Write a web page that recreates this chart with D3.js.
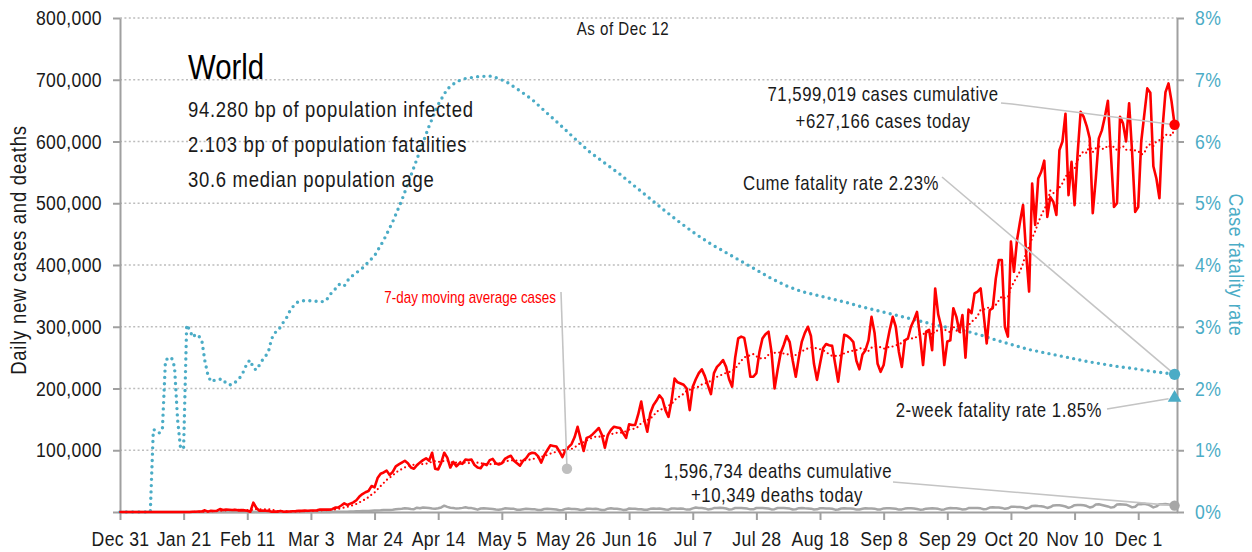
<!DOCTYPE html>
<html>
<head>
<meta charset="utf-8">
<script src="https://cdn.jsdelivr.net/npm/d3@7"></script>
<style>
  body { margin: 0; background: #fff; }
  svg { display: block; font-family: 'Liberation Sans', Arial, sans-serif; }
</style>
</head>
<body>
<svg id="chart" width="1252" height="552"></svg>
<script>
// daily new cases (thousands), one value per day starting Dec 31 (day 0)
const casesK = [
  0, 0, 0, 0, 0, 0, 0,
  0, 0, 0, 0, 0, 0, 0,
  0, 0, 0, 0, 0, 0, 0,
  0, 0, 0.1, 0.3, 0.5, 0.7, 0.8,
  2.7, 0.6, 2.1, 1.7, 2.1, 4.7, 3.1,
  4.0, 3.7, 3.2, 3.6, 2.7, 3.0, 2.6,
  2.0, 0.4, 15.1, 6.5, 2.1, 2.2, 2.0,
  1.9, 0.5, 0.6, 0.6, 1.8, 0.4, 0.6,
  0.9, 1.2, 1.4, 1.8, 1.8, 2.2, 1.9,
  2.4, 2.5, 2.7, 4.0, 3.9, 4.0, 3.8,
  4.5, 7.1, 7.3, 10.5, 14.0, 11.4, 13.6,
  15.6, 19, 25, 29, 32, 34, 42,
  40, 55, 62, 64, 67, 60, 65,
  74, 77, 80, 83, 79, 72, 70,
  76, 80, 84, 87, 83, 96, 70,
  69, 80, 96, 88, 72, 81, 74,
  79, 78, 85, 84, 85, 76, 72,
  71, 78, 76, 84, 86, 79, 77,
  79, 86, 89, 91, 83, 79, 75,
  83, 87, 94, 96, 95, 90, 80,
  92, 100, 108, 107, 106, 98, 89,
  100, 105, 110, 121, 138, 118, 99,
  120, 122, 126, 131, 136, 125, 104,
  125, 133, 138, 137, 136, 128, 120,
  142, 141, 141, 158, 179, 150, 130,
  160, 173, 180, 189, 183, 165, 154,
  180, 216, 210, 208, 206, 200, 165,
  203, 215, 225, 231, 220, 205, 191,
  225, 235, 240, 246, 235, 215, 203,
  250, 281, 284, 282, 255, 219, 219,
  225, 259, 281, 288, 292, 259, 200,
  230, 257, 270, 285, 275, 245, 219,
  250, 276, 290, 300, 285, 240, 214,
  240, 265, 272, 270, 269, 240, 211,
  250, 287, 285, 281, 275, 245, 231,
  255, 262, 278, 316, 290, 240, 227,
  238, 270, 295, 316, 300, 260, 235,
  278, 281, 300, 311, 324, 285, 238,
  292, 295, 262, 362, 320, 300, 238,
  276, 278, 330, 316, 292, 319, 250,
  328, 322, 354, 357, 362, 320, 273,
  327, 330, 378, 408, 408, 300, 284,
  438, 389, 440, 470, 497, 420, 357,
  532, 465, 540, 551, 569, 478, 510,
  502, 481, 586, 600, 645, 513, 567,
  497, 580, 648, 640, 625, 605, 484,
  540, 605, 618, 640, 666, 578, 494,
  500, 640, 629, 600, 662, 581, 486,
  494, 600, 643, 686, 679, 560, 540,
  508, 620, 680, 694, 665, 627.166
];

// daily new deaths (thousands), same days
const deathsK = [
  0, 0, 0, 0, 0, 0, 0,
  0, 0, 0, 0, 0, 0, 0,
  0, 0, 0, 0, 0, 0, 0,
  0, 0, 0, 0, 0, 0, 0,
  0, 0, 0, 0, 0.1, 0.1, 0.1,
  0.1, 0.1, 0.1, 0.1, 0.1, 0.1, 0.1,
  0.1, 0.1, 0.3, 0.1, 0.1, 0.1, 0.1,
  0.1, 0.1, 0.1, 0.1, 0.1, 0.1, 0.1,
  0.1, 0.1, 0.1, 0.1, 0.1, 0.1, 0.1,
  0.1, 0.1, 0.1, 0.1, 0.1, 0.2, 0.2,
  0.3, 0.3, 0.3, 0.4, 0.4, 0.4, 0.8,
  0.9, 1.1, 1.3, 1.5, 1.7, 1.7, 2.0,
  2.3, 2.6, 2.8, 3.4, 3.4, 3.4, 3.8,
  4.5, 5.0, 5.3, 6.0, 5.7, 4.8, 4.5,
  7.0, 6.2, 7.4, 6.9, 6.3, 5.6, 5.1,
  6.0, 7.4, 10.3, 8.3, 6.8, 6.5, 5.5,
  6.0, 6.7, 7.6, 6.6, 6.3, 5.2, 3.8,
  5.6, 6.1, 5.7, 5.3, 4.9, 3.9, 3.6,
  4.4, 5.9, 5.7, 5.3, 5.1, 3.7, 3.5,
  4.4, 5.3, 4.9, 4.6, 4.3, 3.1, 3.2,
  4.8, 5.1, 5.0, 4.5, 4.1, 2.9, 3.3,
  5.0, 5.6, 5.0, 5.0, 4.4, 3.3, 3.5,
  5.2, 5.3, 5.0, 5.1, 4.3, 3.2, 3.4,
  5.4, 6.2, 5.3, 5.4, 4.6, 3.4, 3.6,
  5.7, 5.1, 5.4, 4.5, 4.6, 3.6, 3.7,
  5.1, 5.6, 5.3, 5.5, 5.0, 4.0, 3.8,
  5.7, 5.7, 5.3, 5.8, 5.1, 3.9, 4.1,
  5.8, 7.2, 6.5, 6.3, 5.8, 4.2, 4.7,
  6.3, 6.5, 6.7, 6.5, 5.6, 4.0, 4.6,
  6.4, 6.6, 6.3, 6.1, 5.5, 4.3, 4.4,
  6.5, 6.6, 6.6, 6.2, 5.6, 4.2, 4.6,
  6.4, 6.6, 6.4, 6.0, 5.5, 4.0, 4.5,
  6.2, 6.4, 6.0, 5.8, 5.4, 4.0, 4.3,
  6.1, 6.0, 5.7, 5.5, 5.2, 3.8, 4.1,
  5.6, 6.2, 5.8, 5.6, 5.3, 3.9, 4.0,
  5.2, 6.2, 5.8, 5.7, 5.4, 4.0, 4.2,
  5.8, 6.1, 6.0, 5.7, 5.2, 3.9, 4.2,
  5.5, 6.0, 5.9, 5.7, 5.0, 3.8, 4.0,
  5.4, 5.8, 5.9, 5.5, 5.1, 3.8, 4.2,
  5.8, 6.3, 6.0, 6.2, 5.4, 4.1, 4.4,
  6.4, 6.6, 6.4, 6.5, 5.9, 4.5, 5.0,
  7.2, 7.5, 7.1, 7.2, 6.6, 5.1, 6.0,
  8.4, 8.7, 8.2, 8.0, 7.2, 5.7, 7.1,
  9.8, 10.0, 9.6, 9.4, 8.4, 6.6, 8.0,
  10.7, 10.8, 10.9, 10.2, 8.9, 6.7, 8.3,
  11.0, 11.4, 11.5, 10.9, 9.6, 7.4, 8.6,
  12.1, 12.5, 11.4, 10.2, 9.0, 7.1, 8.1,
  12.0, 12.5, 12.3, 11.9, 9.9, 7.5, 8.6,
  12.8, 12.6, 13.2, 12.3, 10.4, 7.4, 9.1,
  12.6, 12.7, 12.9, 12.1, 11.0, 10.349
];

// case fatality rate (%), read at these days
const cfrDays = [
  0, 10, 11, 12, 13, 14, 15, 16, 17, 18, 19, 20, 21, 22, 23, 24, 25, 26, 27, 28,
  29, 30, 31, 32, 33, 34, 35, 36, 37, 38, 39, 40, 41, 42, 43, 44, 45, 46, 47, 48,
  49, 50, 51, 52, 53, 54, 55, 56, 57, 58, 59, 60, 62, 64, 66, 68, 69, 70, 71, 72,
  73, 74, 75, 76, 80, 84, 87, 90, 93, 96, 99, 102, 105, 108, 111, 114, 118, 122, 125, 128,
  132, 136, 140, 145, 150, 155, 160, 165, 170, 175, 180, 185, 190, 195, 200, 205, 210, 215, 220, 225,
  230, 235, 240, 245, 250, 255, 260, 265, 270, 275, 280, 285, 290, 295, 300, 305, 310, 315, 320, 325,
  330, 335, 340, 345, 348
];
const cfrPct = [
  0, 0, 1.33, 1.33, 1.28, 1.35, 2.45, 2.5, 2.5, 2.35, 1.5, 1.02, 1.05, 3.03, 2.95, 2.83, 2.88, 2.85, 2.78, 2.45,
  2.22, 2.11, 2.13, 2.15, 2.15, 2.15, 2.08, 2.06, 2.06, 2.1, 2.15, 2.2, 2.3, 2.42, 2.46, 2.33, 2.3, 2.38, 2.46, 2.52,
  2.6, 2.8, 2.9, 2.93, 3.0, 3.08, 3.15, 3.25, 3.32, 3.38, 3.41, 3.42, 3.42, 3.42, 3.4, 3.42, 3.5, 3.56, 3.61, 3.68,
  3.69, 3.66, 3.74, 3.8, 3.95, 4.15, 4.4, 4.7, 5.05, 5.45, 5.85, 6.25, 6.6, 6.85, 6.97, 7.02, 7.05, 7.06, 7.02, 6.95,
  6.82, 6.68, 6.5, 6.28, 6.05, 5.83, 5.65, 5.47, 5.27, 5.07, 4.87, 4.68, 4.5, 4.34, 4.2, 4.06, 3.92, 3.78, 3.66, 3.57,
  3.51, 3.45, 3.39, 3.32, 3.26, 3.2, 3.14, 3.08, 3.02, 2.97, 2.92, 2.85, 2.77, 2.7, 2.63, 2.58, 2.53, 2.48, 2.43, 2.39,
  2.35, 2.32, 2.28, 2.25, 2.23
];

const twoWeekCfr = 1.85;
const lastDay = 348;
const casesToday = 627166;
const deathsToday = 10349;

const yTicks = [0, 100000, 200000, 300000, 400000, 500000, 600000, 700000, 800000];
const y2Ticks = [0, 1, 2, 3, 4, 5, 6, 7, 8];
const xTickDays = [0, 21, 42, 63, 84, 105, 126, 147, 168, 189, 210, 231, 252, 273, 294, 315, 336];
const xTickLabels = ['Dec 31', 'Jan 21', 'Feb 11', 'Mar 3', 'Mar 24', 'Apr 14', 'May 5', 'May 26',
  'Jun 16', 'Jul 7', 'Jul 28', 'Aug 18', 'Sep 8', 'Sep 29', 'Oct 20', 'Nov 10', 'Dec 1'];

const statLines = ['94.280 bp of population infected', '2.103 bp of population fatalities', '30.6 median population age'];

/****************** SETUP ******************/
const margin = { top: 18, right: 75, bottom: 40, left: 120 };
const width = 1252 - margin.left - margin.right;
const height = 552 - margin.top - margin.bottom;

const red = '#ff0000';
const teal = '#4bacc6';
const axisGray = '#a0a0a0';
const leaderGray = '#c4c4c4';
const ink = '#1a1a1a';

// horizontal squeeze so the sans font reads like a condensed face
const K = 0.84;
const condense = sel => sel.each(function () {
  const t = d3.select(this);
  const x0 = +t.attr('x') || 0;
  t.attr('x', x0 / K)
    .attr('transform', (t.attr('transform') || '') + ` scale(${K},1)`);
});

const svg = d3.select('#chart');

const x = d3.scaleLinear().domain([0, 348.8]).range([0, width]);
const y = d3.scaleLinear().domain([0, 800000]).range([height, 0]);
const y2 = d3.scaleLinear().domain([0, 8]).range([height, 0]);

// trailing 7-day mean of the daily cases
const avgK = casesK.map((d, i) => d3.mean(casesK.slice(Math.max(0, i - 6), i + 1)));

const g = svg.append('g')
  .attr('transform', `translate(${margin.left},${margin.top})`);

/****************** GRID + AXES ******************/
g.append('g')
  .selectAll('line')
  .data(yTicks.slice(1))
  .join('line')
    .attr('x1', 0)
    .attr('x2', width)
    .attr('y1', d => y(d))
    .attr('y2', d => y(d))
    .attr('stroke', '#bdbdbd')
    .attr('stroke-width', 1.3)
    .attr('stroke-dasharray', '2 2.4');

const styleAxis = (sel, color) => {
  sel.attr('font-family', null).attr('font-size', 21);
  sel.select('.domain').attr('stroke', axisGray).attr('stroke-width', 2);
  sel.selectAll('.tick line').attr('stroke', axisGray).attr('stroke-width', 2);
  sel.selectAll('.tick text')
    .attr('fill', color)
    .attr('letter-spacing', 0.4)
    .call(condense);
};

g.append('g')
  .call(d3.axisLeft(y)
    .tickValues(yTicks)
    .tickFormat(d => d === 0 ? '' : d3.format(',')(d))
    .tickSize(7)
    .tickPadding(11)
    .tickSizeOuter(0))
  .call(styleAxis, ink);

g.append('g')
  .attr('transform', `translate(${width},0)`)
  .call(d3.axisRight(y2)
    .tickValues(y2Ticks)
    .tickFormat(d => d + '%')
    .tickSize(7)
    .tickPadding(11)
    .tickSizeOuter(0))
  .call(styleAxis, teal);

g.append('g')
  .attr('transform', `translate(0,${height})`)
  .call(d3.axisBottom(x)
    .tickValues(xTickDays)
    .tickFormat((d, i) => xTickLabels[i])
    .tickSize(8)
    .tickPadding(11)
    .tickSizeOuter(0))
  .call(styleAxis, ink);

/****************** SERIES ******************/
g.append('path')
  .datum(cfrDays)
  .attr('fill', 'none')
  .attr('stroke', teal)
  .attr('stroke-width', 3.4)
  .attr('stroke-linecap', 'round')
  .attr('stroke-dasharray', '0 6.3')
  .attr('d', d3.line().x(d => x(d)).y((d, i) => y2(cfrPct[i])));

g.append('path')
  .datum(deathsK)
  .attr('fill', 'none')
  .attr('stroke', '#a6a6a6')
  .attr('stroke-width', 2.5)
  .attr('stroke-linejoin', 'round')
  .attr('d', d3.line().x((d, i) => x(i)).y(d => y(d * 1000)));

g.append('path')
  .datum(casesK)
  .attr('fill', 'none')
  .attr('stroke', red)
  .attr('stroke-width', 2.6)
  .attr('stroke-linejoin', 'round')
  .attr('d', d3.line().x((d, i) => x(i)).y(d => y(d * 1000)));

g.append('path')
  .datum(avgK)
  .attr('fill', 'none')
  .attr('stroke', red)
  .attr('stroke-width', 2.2)
  .attr('stroke-linecap', 'round')
  .attr('stroke-dasharray', '0 4.4')
  .attr('d', d3.line().x((d, i) => x(i)).y(d => y(d * 1000)));

/****************** ANNOTATIONS ******************/
const endX = margin.left + x(lastDay);
const casesY = margin.top + y(casesToday);
const cfrY = margin.top + y2(cfrPct[cfrPct.length - 1]);
const twoWeekY = margin.top + y2(twoWeekCfr);
const deathsY = margin.top + y(deathsToday);
const avgNoteX = margin.left + x(147.5);
const avgNoteY = margin.top + y(70000);

const leader = pts => svg.append('path')
  .attr('fill', 'none')
  .attr('stroke', leaderGray)
  .attr('stroke-width', 1.6)
  .attr('d', d3.line()(pts));

leader([[1001, 103], [1012, 104], [endX, casesY]]);
leader([[942, 177], [endX, cfrY]]);
leader([[1107, 409], [endX - 6, twoWeekY + 1]]);
leader([[893, 482], [endX, deathsY]]);
leader([[561, 292], [avgNoteX, avgNoteY]]);

svg.append('circle').attr('cx', endX).attr('cy', casesY).attr('r', 5.2).attr('fill', red);
svg.append('circle').attr('cx', endX).attr('cy', cfrY).attr('r', 5.6).attr('fill', teal);
svg.append('path')
  .attr('transform', `translate(${endX},${twoWeekY})`)
  .attr('d', d3.symbol(d3.symbolTriangle, 80)())
  .attr('fill', teal);
svg.append('circle').attr('cx', endX).attr('cy', deathsY).attr('r', 5.2).attr('fill', '#a6a6a6');
svg.append('circle').attr('cx', avgNoteX).attr('cy', avgNoteY).attr('r', 5.2).attr('fill', '#bfbfbf');

const note = (txt, px, py, anchor, size, color, spacing) => svg.append('text')
  .attr('x', px)
  .attr('y', py)
  .attr('text-anchor', anchor)
  .attr('font-size', size)
  .attr('letter-spacing', spacing === undefined ? 0.6 : spacing)
  .attr('fill', color || ink)
  .text(txt)
  .call(condense);

note('As of Dec 12', 623, 35, 'middle', 18);

note('World', 188, 79, 'start', 35, '#000', 0);

statLines.forEach((s, i) => note(s, 188, 117 + i * 35, 'start', 22, ink, 0.85));

note(d3.format(',')(71599019) + ' cases cumulative', 883, 101, 'middle', 20);
note('+' + d3.format(',')(casesToday) + ' cases today', 883, 128, 'middle', 20);
note('Cume fatality rate 2.23%', 841, 190, 'middle', 20);
note('2-week fatality rate 1.85%', 1102, 417, 'end', 20);
note(d3.format(',')(1596734) + ' deaths cumulative', 778, 478, 'middle', 20);
note('+' + d3.format(',')(deathsToday) + ' deaths today', 777, 502, 'middle', 20);
note('7-day moving average cases', 556, 303, 'end', 16, red, 0);

// axis titles
svg.append('text')
  .attr('transform', 'translate(26,250) rotate(-90)')
  .attr('text-anchor', 'middle')
  .attr('font-size', 22)
  .attr('letter-spacing', 0.9)
  .attr('fill', ink)
  .text('Daily new cases and deaths')
  .call(condense);

svg.append('text')
  .attr('transform', 'translate(1229,265) rotate(90)')
  .attr('text-anchor', 'middle')
  .attr('font-size', 21)
  .attr('letter-spacing', 0.7)
  .attr('fill', teal)
  .text('Case fatality rate')
  .call(condense);
</script>
</body>
</html>
